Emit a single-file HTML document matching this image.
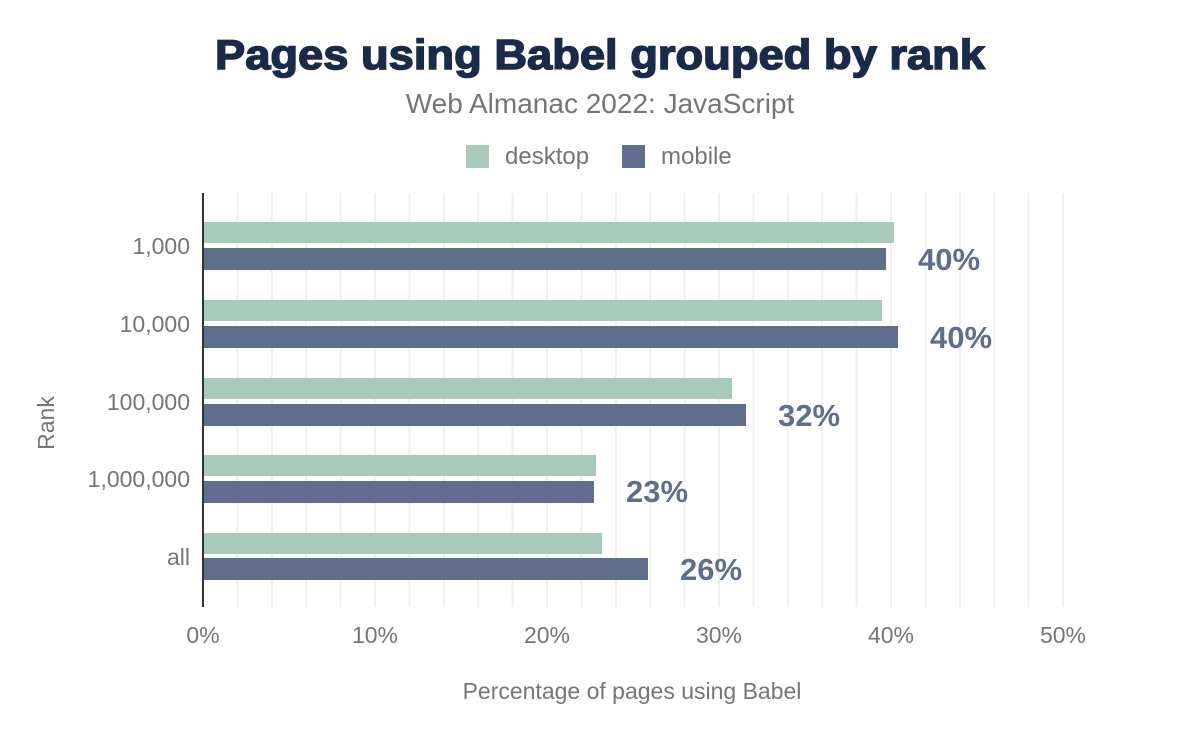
<!DOCTYPE html>
<html><head><style>
body{margin:0;background:#fff;}
svg text{font-family:"Liberation Sans",sans-serif;}
</style></head><body>
<svg width="1200" height="742" xmlns="http://www.w3.org/2000/svg">
<rect width="1200" height="742" fill="#fff"/>
<text x="600" y="69" text-anchor="middle" font-size="42" font-weight="bold" fill="#1a2b49" stroke="#1a2b49" stroke-width="1.5" textLength="770" lengthAdjust="spacingAndGlyphs">Pages using Babel grouped by rank</text>
<text x="600" y="113" text-anchor="middle" font-size="28" fill="#757575">Web Almanac 2022: JavaScript</text>
<rect x="466" y="145" width="23" height="23" fill="#a8cabb"/>
<text x="505" y="164" font-size="24" fill="#757575">desktop</text>
<rect x="622" y="145" width="23" height="23" fill="#5f6f8b"/>
<text x="661" y="164" font-size="24" fill="#757575">mobile</text>
<g stroke="#f0f0f0" stroke-width="2">
<line x1="237.4" y1="193" x2="237.4" y2="607"/><line x1="271.8" y1="193" x2="271.8" y2="607"/><line x1="306.2" y1="193" x2="306.2" y2="607"/><line x1="340.6" y1="193" x2="340.6" y2="607"/><line x1="375" y1="193" x2="375" y2="607"/>
<line x1="409.4" y1="193" x2="409.4" y2="607"/><line x1="443.8" y1="193" x2="443.8" y2="607"/><line x1="478.2" y1="193" x2="478.2" y2="607"/><line x1="512.6" y1="193" x2="512.6" y2="607"/><line x1="547" y1="193" x2="547" y2="607"/>
<line x1="581.4" y1="193" x2="581.4" y2="607"/><line x1="615.8" y1="193" x2="615.8" y2="607"/><line x1="650.2" y1="193" x2="650.2" y2="607"/><line x1="684.6" y1="193" x2="684.6" y2="607"/><line x1="719" y1="193" x2="719" y2="607"/>
<line x1="753.4" y1="193" x2="753.4" y2="607"/><line x1="787.8" y1="193" x2="787.8" y2="607"/><line x1="822.2" y1="193" x2="822.2" y2="607"/><line x1="856.6" y1="193" x2="856.6" y2="607"/><line x1="891" y1="193" x2="891" y2="607"/>
<line x1="925.4" y1="193" x2="925.4" y2="607"/><line x1="959.8" y1="193" x2="959.8" y2="607"/><line x1="994.2" y1="193" x2="994.2" y2="607"/><line x1="1028.6" y1="193" x2="1028.6" y2="607"/><line x1="1063" y1="193" x2="1063" y2="607"/>
</g>
<g fill="#a8cabb">
<rect x="203" y="222" width="691" height="21"/>
<rect x="203" y="300" width="679" height="21"/>
<rect x="203" y="378" width="529" height="21"/>
<rect x="203" y="455" width="393" height="21"/>
<rect x="203" y="533" width="399" height="21"/>
</g>
<g fill="#5f6f8b">
<rect x="203" y="248" width="683" height="22"/>
<rect x="203" y="326" width="695" height="22"/>
<rect x="203" y="404" width="543" height="22"/>
<rect x="203" y="481" width="391" height="22"/>
<rect x="203" y="558" width="445" height="22"/>
</g>
<line x1="203" y1="193" x2="203" y2="607" stroke="#333" stroke-width="2"/>
<g font-size="31" font-weight="bold" fill="#5f6f8b">
<text x="918" y="270">40%</text>
<text x="930" y="348">40%</text>
<text x="778" y="426">32%</text>
<text x="626" y="502">23%</text>
<text x="680" y="580">26%</text>
</g>
<g font-size="23" fill="#757575" text-anchor="end">
<text x="190" y="254">1,000</text>
<text x="190" y="332">10,000</text>
<text x="190" y="410">100,000</text>
<text x="190" y="487">1,000,000</text>
<text x="190" y="565">all</text>
</g>
<g font-size="23" fill="#757575" text-anchor="middle">
<text x="203" y="643">0%</text><text x="375" y="643">10%</text><text x="547" y="643">20%</text><text x="719" y="643">30%</text><text x="891" y="643">40%</text><text x="1063" y="643">50%</text>
<text x="632" y="699">Percentage of pages using Babel</text>
<text transform="translate(54,423) rotate(-90)">Rank</text>
</g>
</svg>
</body></html>
